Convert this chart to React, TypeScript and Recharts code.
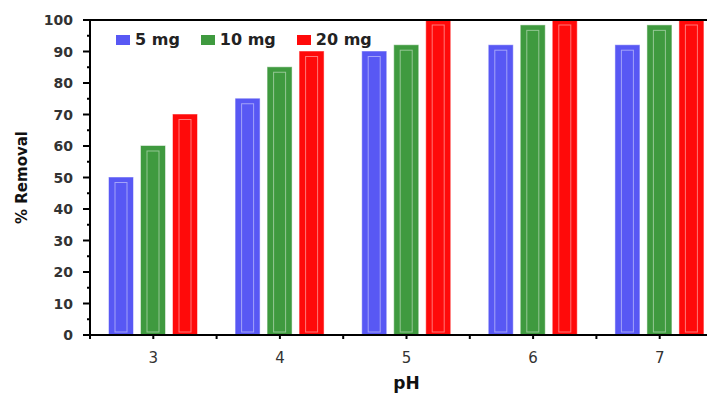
import React from 'react';
import { BarChart, Bar, XAxis, YAxis, ReferenceLine, Legend } from 'recharts';

// pH levels tested and % removal for each adsorbent dose
const phLevels = ['3', '4', '5', '6', '7'];
const removal5mg = [50, 75, 90, 92, 92];
const removal10mg = [60, 85, 92, 98.3, 98.3];
const removal20mg = [70, 90, 100, 100, 100];
const yTicks = [0, 5, 10, 15, 20, 25, 30, 35, 40, 45, 50, 55, 60, 65, 70, 75, 80, 85, 90, 95, 100];

const series = [
  { key: 'mg5', name: '5 mg', color: '#5858f4' },
  { key: 'mg10', name: '10 mg', color: '#3f9a3f' },
  { key: 'mg20', name: '20 mg', color: '#ff0a0a' },
];

const data = phLevels.map((ph, i) => ({
  ph,
  mg5: removal5mg[i],
  mg10: removal10mg[i],
  mg20: removal20mg[i],
}));

const CHART_W = 720;
const CHART_H = 388;
const MARGIN = { top: 12, right: 5, bottom: 0, left: 0 };
const Y_AXIS_W = 82;
const PLOT_W = CHART_W - MARGIN.right - MARGIN.left - Y_AXIS_W;
const BAND = PLOT_W / phLevels.length;

const FONT = '"DejaVu Sans", Verdana, sans-serif';

// Bar with a pale inner outline
const GlossBar = (props: any) => {
  const { x, y, width, height, fill } = props;
  if (!height || height <= 0) return null;
  return (
    <g>
      <rect x={x} y={y} width={width} height={height} fill={fill} stroke={fill} strokeOpacity={0.5} strokeWidth={1} />
      <rect
        x={x + 6}
        y={y + 5}
        width={Math.max(width - 12, 0)}
        height={Math.max(height - 8, 0)}
        fill="none"
        stroke="rgba(255,255,255,0.45)"
        strokeWidth={1}
      />
    </g>
  );
};

const YTick = (props: any) => {
  const { x, y, payload } = props;
  const major = payload.value % 10 === 0;
  return (
    <g>
      <line x1={x - (major ? 7 : 3)} x2={x} y1={y} y2={y} stroke="#000" strokeWidth={2} />
      {major && (
        <text
          x={x - 17}
          y={y}
          textAnchor="end"
          dominantBaseline="central"
          fontFamily={FONT}
          fontWeight="bold"
          fontSize={14}
          fill="#333"
        >
          {payload.value}
        </text>
      )}
    </g>
  );
};

const XTick = (props: any) => {
  const { x, y, payload, index } = props;
  return (
    <g>
      <line x1={x} x2={x} y1={y} y2={y + 4} stroke="#000" strokeWidth={2} />
      <line x1={x - BAND / 2} x2={x - BAND / 2} y1={y} y2={y + 4} stroke="#000" strokeWidth={2} />
      {index === phLevels.length - 1 && (
        <line x1={x + BAND / 2} x2={x + BAND / 2} y1={y} y2={y + 4} stroke="#000" strokeWidth={2} />
      )}
      <text
        x={x}
        y={y + 23}
        textAnchor="middle"
        dominantBaseline="central"
        fontFamily={FONT}
        fontSize={15}
        fill="#333"
      >
        {payload.value}
      </text>
    </g>
  );
};

const YLabel = (props: any) => {
  const { viewBox } = props;
  const cx = viewBox.x + 14;
  const cy = viewBox.y + viewBox.height / 2;
  return (
    <text
      x={cx}
      y={cy}
      transform={`rotate(-90 ${cx} ${cy})`}
      textAnchor="middle"
      dominantBaseline="central"
      fontFamily={FONT}
      fontWeight="bold"
      fontSize={15}
      fill="#111"
    >
      % Removal
    </text>
  );
};

const XLabel = (props: any) => {
  const { viewBox } = props;
  const cx = viewBox.x + viewBox.width / 2;
  return (
    <text
      x={cx}
      y={viewBox.y + 48}
      textAnchor="middle"
      dominantBaseline="central"
      fontFamily={FONT}
      fontWeight="bold"
      fontSize={17}
      fill="#111"
    >
      pH
    </text>
  );
};

const LegendContent = () => (
  <div style={{ display: 'flex', alignItems: 'center', fontFamily: FONT }}>
    {series.map((s) => (
      <div key={s.key} style={{ display: 'flex', alignItems: 'center', marginRight: 21 }}>
        <span style={{ display: 'inline-block', width: 14, height: 10, background: s.color, marginRight: 5 }} />
        <span style={{ fontWeight: 'bold', fontSize: 16, color: '#222', whiteSpace: 'nowrap' }}>{s.name}</span>
      </div>
    ))}
  </div>
);

export default function App() {
  return (
    <div style={{ position: 'relative', width: 707, height: CHART_H }}>
      <svg
        width={70}
        height={70}
        style={{ position: 'absolute', left: -8, top: -8, pointerEvents: 'none' }}
      >
        <polygon points="0,0 13,0 6,7 0,7" fill="#d9d9d9" />
        <polygon points="52,0 63,0 57,6" fill="#d9d9d9" />
        <polygon points="0,47 7,41 7,60 0,60" fill="#d9d9d9" />
      </svg>
      <div style={{ width: 707, height: CHART_H, overflow: 'hidden' }}>
        <BarChart width={CHART_W} height={CHART_H} data={data} margin={MARGIN} barSize={24} barGap={8}>
          <ReferenceLine y={100} stroke="#000" strokeWidth={2} ifOverflow="extendDomain" />
          <XAxis
            dataKey="ph"
            height={CHART_H - MARGIN.top - 315}
            interval={0}
            tickSize={0}
            tickMargin={0}
            tickLine={false}
            axisLine={{ stroke: '#000', strokeWidth: 2 }}
            tick={<XTick />}
            label={<XLabel />}
          />
          <YAxis
            width={Y_AXIS_W}
            domain={[0, 100]}
            ticks={yTicks}
            interval={0}
            tickSize={0}
            tickMargin={0}
            tickLine={false}
            axisLine={{ stroke: '#000', strokeWidth: 2 }}
            tick={<YTick />}
            label={<YLabel />}
          />
          <Legend
            layout="horizontal"
            verticalAlign="middle"
            align="center"
            wrapperStyle={{ top: 22, left: 108, width: 'auto', height: 'auto' }}
            content={<LegendContent />}
          />
          {series.map((s) => (
            <Bar
              key={s.key}
              dataKey={s.key}
              name={s.name}
              fill={s.color}
              shape={<GlossBar />}
              isAnimationActive={false}
            />
          ))}
        </BarChart>
      </div>
    </div>
  );
}
